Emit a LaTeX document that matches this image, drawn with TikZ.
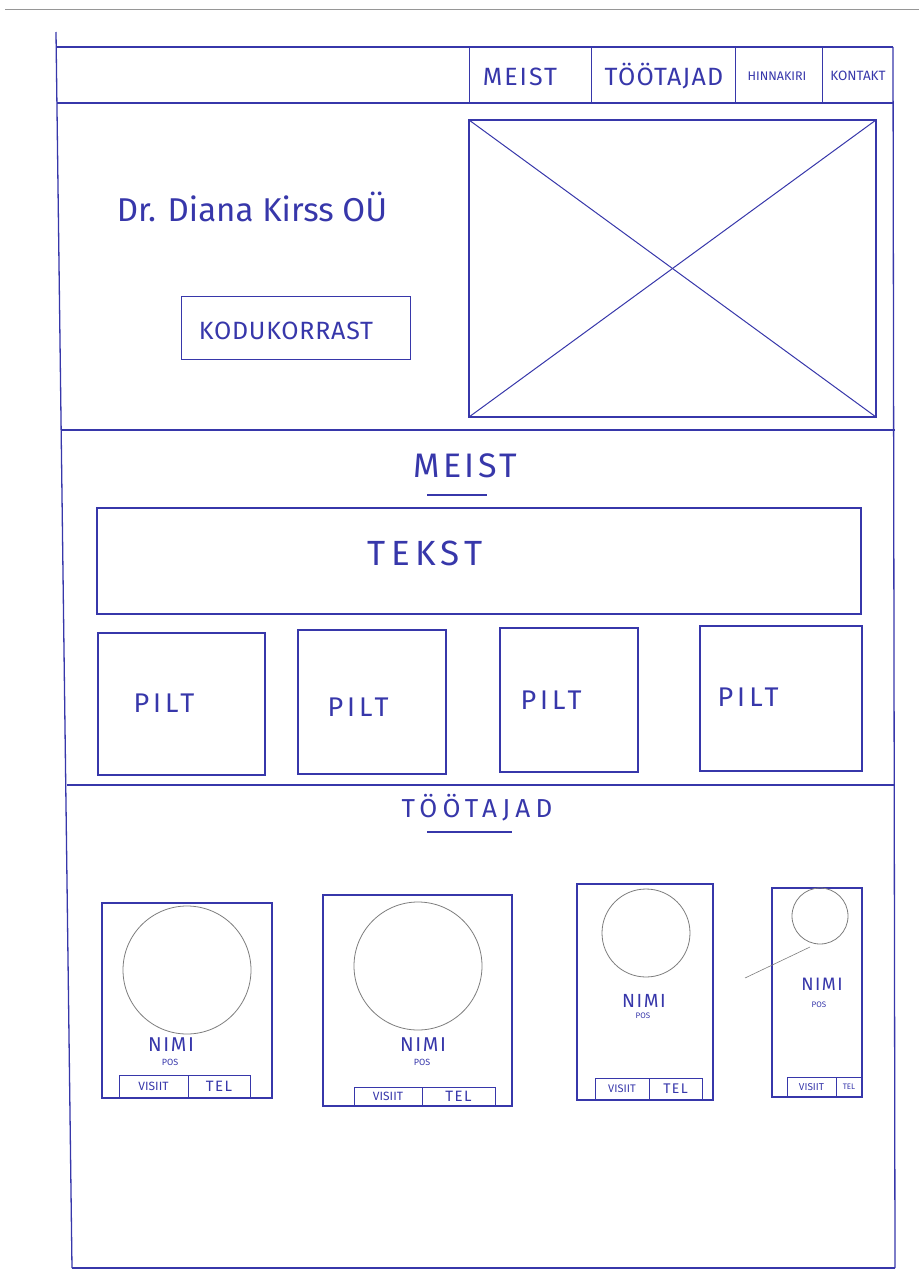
\documentclass[tikz,border=0pt]{standalone}
\usepackage{fontspec}
\setmainfont{Fira Sans}
\definecolor{ink}{RGB}{55,55,170}
\definecolor{pencil}{RGB}{125,125,125}
\definecolor{paper}{RGB}{150,150,150}
\newcommand\hfs[1]{\fontsize{#1}{#1}\selectfont}
\newcommand\hsp[1]{\addfontfeature{LetterSpace=#1}}
\begin{document}
\begin{tikzpicture}[x=1pt,y=-1pt,
  wire/.style={draw=ink, line width=1.3pt},
  thin/.style={draw=ink, line width=1pt},
  circ/.style={draw=pencil, line width=0.8pt},
  lbl/.style={text=ink, inner sep=0pt},
  btn/.style={draw=ink, line width=1pt, inner sep=0pt, text=ink}]
\useasboundingbox (0,0) rectangle (919,1274);
% paper edge line
\draw[paper, line width=1pt] (5,9) -- (919,9);
% outer frame
\coordinate (tl) at (56,32);
\coordinate (bl) at (72,1268);
\coordinate (tr) at (893,47);
\coordinate (br) at (895,1268);
\draw[wire] (tl) -- (bl);
\draw[wire] (tr) -- (br);
\draw[wire] (56,47) -- (tr);
\draw[wire] (bl) -- (br);
% nav bar
\draw[wire] (57,103) -- (893,103);
\foreach \x in {469,591,735,822} \draw[thin] (\x,47) -- (\x,103);
\node[lbl] (nav1) at (520,77) {\hfs{25}\hsp{8}MEIST};
\node[lbl] (nav2) at (664,76) {\hfs{25}\hsp{5}TÖÖTAJAD};
\node[lbl] (nav3) at (777,76) {\hfs{12.5}HINNAKIRI};
\node[lbl] (nav4) at (858,76) {\hfs{13.5}KONTAKT};
% hero
\draw[wire] (469,120) rectangle (876,417);
\draw[thin] (469,120) -- (876,417);
\draw[thin] (469,417) -- (876,120);
\node[lbl] (title) at (252,207) {\hfs{33}Dr. Diana Kirss OÜ};
\node[btn, line width=1.3pt, minimum width=229pt, minimum height=63pt] (cta) at (296,328) {};
\node[lbl] (ctatext) at (286,331) {\hfs{25}\hsp{3}KODUKORRAST};
\draw[wire] (61,430) -- (895,430);
% MEIST
\node[lbl] (meist) at (465,466) {\hfs{34}\hsp{10}MEIST};
\draw[wire] (427,495) -- (487,495);
\draw[wire] (97,508) rectangle (861,614);
\node[lbl] (tekst) at (425,553) {\hfs{35}\hsp{15}TEKST};
\draw[wire] (98,633) rectangle (265,775);
\draw[wire] (298,630) rectangle (446,774);
\draw[wire] (500,628) rectangle (638,772);
\draw[wire] (700,626) rectangle (862,771);
\node[lbl] (p1) at (164,703) {\hfs{27}\hsp{15}PILT};
\node[lbl] (p2) at (358,707) {\hfs{27}\hsp{15}PILT};
\node[lbl] (p3) at (551,700) {\hfs{27}\hsp{15}PILT};
\node[lbl] (p4) at (748,697) {\hfs{27}\hsp{15}PILT};
\draw[wire] (67,785) -- (895,785);
% TOOTAJAD
\node[lbl] (tootajad) at (477,808) {\hfs{26}\hsp{20}TÖÖTAJAD};
\draw[wire] (427,832) -- (512,832);
% card 1
\draw[wire] (102,903) rectangle (272,1098);
\draw[circ] (187,970) circle (64);
\node[lbl] (n1) at (171,1045) {\hfs{20}\hsp{8}NIMI};
\node[lbl] (s1) at (170,1062) {\hfs{9}POS};
\node[btn, minimum width=69pt, minimum height=23pt] (v1) at (153.5,1086.5) {\hfs{12}VISIIT};
\node[btn, minimum width=62pt, minimum height=23pt] (t1) at (219,1086.5) {\hfs{15}\hsp{10}TEL};
% card 2
\draw[wire] (323,895) rectangle (512,1106);
\draw[circ] (418,966) circle (64);
\node[lbl] (n2) at (423,1045) {\hfs{20}\hsp{8}NIMI};
\node[lbl] (s2) at (422,1062) {\hfs{9}POS};
\node[btn, minimum width=68pt, minimum height=19pt] (v2) at (388,1096.5) {\hfs{12}VISIIT};
\node[btn, minimum width=73pt, minimum height=19pt] (t2) at (458.5,1096.5) {\hfs{15}\hsp{10}TEL};
% card 3
\draw[wire] (577,884) rectangle (713,1100);
\draw[circ] (646,933) circle (44);
\node[lbl] (n3) at (644,1001) {\hfs{19}\hsp{8}NIMI};
\node[lbl] (s3) at (643,1016) {\hfs{8}POS};
\node[btn, minimum width=54pt, minimum height=22pt] (v3) at (622,1089) {\hfs{11}VISIIT};
\node[btn, minimum width=53pt, minimum height=22pt] (t3) at (675.5,1089) {\hfs{14}\hsp{10}TEL};
% card 4
\draw[wire] (772,888) rectangle (862,1097);
\draw[circ] (820,916) circle (28);
\draw[circ, line width=0.6pt] (745,978) -- (810,947);
\node[lbl] (n4) at (822,984) {\hfs{18}\hsp{8}NIMI};
\node[lbl] (s4) at (819,1005) {\hfs{8}POS};
\node[btn, minimum width=49pt, minimum height=20pt] (v4) at (811.5,1087) {\hfs{10}VISIIT};
\node[btn, minimum width=26pt, minimum height=20pt] (t4) at (849,1087) {\hfs{8}TEL};
\end{tikzpicture}
\end{document}
